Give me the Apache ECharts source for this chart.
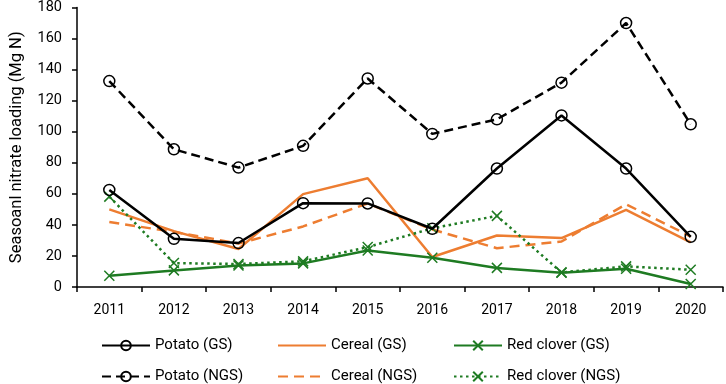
<!DOCTYPE html>
<html>
<head>
<meta charset="utf-8">
<script src="https://cdn.jsdelivr.net/npm/echarts@6/dist/echarts.min.js"></script>
<style>html,body{margin:0;padding:0;background:#fff;}#c{width:726px;height:384px;}</style>
</head>
<body>
<div id="c"></div>
<script>
const years = ['2011','2012','2013','2014','2015','2016','2017','2018','2019','2020'];
const potatoGS = [62.5, 31, 28.3, 54, 53.8, 37.5, 76.3, 110.5, 76.3, 32.3];
const cerealGS = [50, 36, 24.5, 59.8, 70, 19.3, 33.2, 31.5, 49.7, 28.7];
const redCloverGS = [7.3, 10.7, 13.9, 15.2, 23.5, 18.8, 12.3, 9.2, 11.8, 1.9];
const potatoNGS = [132.6, 88.7, 76.9, 90.9, 134.3, 98.6, 108, 131.6, 170, 104.8];
const cerealNGS = [41.8, 35.5, 28, 39, 53.8, 37, 25, 29.3, 53.3, 32.5];
const redCloverNGS = [58.2, 15.4, 14.8, 16.5, 25.7, 37.8, 45.8, 9.4, 13.3, 11.1];
const yTicks = [0, 20, 40, 60, 80, 100, 120, 140, 160, 180];

const BLACK = '#000000', ORANGE = '#ED7D31', GREEN = '#1E7B22';
const XPATH = 'path://M0,0L10,10M10,0L0,10';
const FONT = 'Roboto';

function circleSeries(name, data, type) {
  return {
    name, type: 'line', data,
    symbol: 'circle', symbolSize: 11,
    itemStyle: { color: 'rgba(255,255,255,0)', borderColor: BLACK, borderWidth: 1.5 },
    lineStyle: { color: BLACK, width: 2.5, type },
    z: 5
  };
}
function plainSeries(name, data, dash) {
  return {
    name, type: 'line', data,
    symbol: 'circle', showSymbol: false, symbolSize: 0,
    itemStyle: { color: 'rgba(0,0,0,0)', borderWidth: 0 },
    lineStyle: { color: ORANGE, width: 2.5, type: dash ? [10, 6] : 'solid' }
  };
}
function crossSeries(name, data, type) {
  return {
    name, type: 'line', data,
    symbol: XPATH, symbolSize: 10,
    itemStyle: { color: GREEN, borderColor: GREEN, borderWidth: 1.5 },
    lineStyle: { color: GREEN, width: 2.5, type }
  };
}

const legendPos = [
  ['Potato (GS)', 101, 338], ['Cereal (GS)', 277, 338], ['Red clover (GS)', 453, 338],
  ['Potato (NGS)', 101, 369], ['Cereal (NGS)', 277, 369], ['Red clover (NGS)', 453, 369]
];

const chart = echarts.init(document.getElementById('c'));
chart.setOption({
  animation: false,
  textStyle: { fontFamily: FONT },
  grid: { left: 65, right: 3, top: 7, bottom: 97, containLabel: false },
  legend: legendPos.map(([n, l, t]) => ({
    data: [n], left: l, top: t, itemWidth: 48, itemHeight: 12, itemGap: 4,
    padding: 0,
    textStyle: { fontFamily: FONT, fontSize: 15, color: '#000', padding: [0, 0, 0, 0] }
  })),
  xAxis: {
    type: 'category', data: years, boundaryGap: true,
    axisLine: { lineStyle: { color: '#000', width: 1.5 } },
    axisTick: { show: true, length: 5, lineStyle: { color: '#000', width: 1.5 } },
    axisLabel: { color: '#000', fontSize: 14, fontFamily: FONT, margin: 16 },
    splitLine: { show: false }
  },
  yAxis: {
    type: 'value', min: yTicks[0], max: yTicks[yTicks.length - 1], interval: 20,
    name: 'Seasoanl nitrate loading (Mg N)', nameLocation: 'middle', nameGap: 52,
    nameTextStyle: { color: '#000', fontSize: 16.5, fontFamily: FONT },
    axisLine: { show: true, lineStyle: { color: '#000', width: 1.5 } },
    axisTick: { show: true, length: 5, lineStyle: { color: '#000', width: 1.5 } },
    axisLabel: { color: '#000', fontSize: 14.5, fontFamily: FONT, margin: 15 },
    splitLine: { show: false }
  },
  series: [
    circleSeries('Potato (GS)', potatoGS, 'solid'),
    plainSeries('Cereal (GS)', cerealGS, false),
    crossSeries('Red clover (GS)', redCloverGS, 'solid'),
    circleSeries('Potato (NGS)', potatoNGS, [9, 5]),
    plainSeries('Cereal (NGS)', cerealNGS, true),
    crossSeries('Red clover (NGS)', redCloverNGS, [2.5, 3.5])
  ]
});
</script>
</body>
</html>
